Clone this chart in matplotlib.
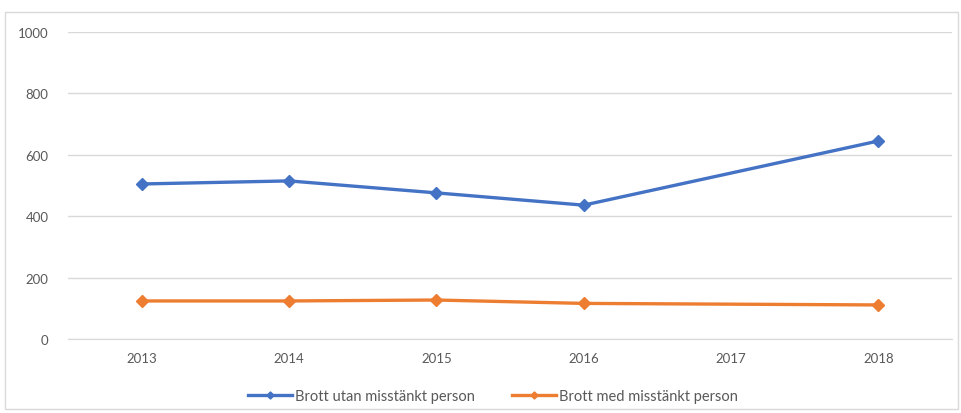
import numpy as np
import matplotlib.pyplot as plt
from matplotlib.patches import Rectangle

# Values (2017 has no data point in the source)
years = ["2013", "2014", "2015", "2016", "2017", "2018"]
utan_misstankt = [505, 515, 476, 436, None, 645]
med_misstankt = [124, 124, 127, 116, None, 111]
series_names = ["Brott utan misstänkt person", "Brott med misstänkt person"]
series_colors = ["#4472C4", "#ED7D31"]
y_ticks = [0, 200, 400, 600, 800, 1000]

plt.rcParams['font.family'] = ['Lato', 'DejaVu Sans']

fig = plt.figure(figsize=(9.61, 4.14), dpi=100)
ax = fig.add_axes([0.0708, 0.1787, 0.9198, 0.7416])

# Outer chart border like the Excel chart area
fig.patches.append(Rectangle((5 / 961, 4 / 414), 953 / 961, 397 / 414,
                             transform=fig.transFigure, fill=False,
                             edgecolor="#d9d9d9", linewidth=1))

x = np.arange(len(years))
for vals, name, color in zip([utan_misstankt, med_misstankt], series_names, series_colors):
    pts = [(xi, v) for xi, v in zip(x, vals) if v is not None]
    xs, ys = zip(*pts)
    ax.plot(xs, ys, color=color, linewidth=2.4, marker="D", markersize=6,
            label=name, solid_joinstyle="round")

ax.set_xlim(-0.5, len(years) - 0.5)
ax.set_ylim(0, 1000)
ax.set_yticks(y_ticks)
ax.set_xticks(x)
ax.set_xticklabels(years)
ax.grid(axis="y", color="#d9d9d9", linewidth=1)
ax.set_axisbelow(True)
for side in ["top", "right", "left"]:
    ax.spines[side].set_visible(False)
ax.spines["bottom"].set_color("#d9d9d9")
ax.tick_params(axis="both", length=0, colors="#595959", labelsize=9.5)
ax.tick_params(axis="y", pad=14)
ax.tick_params(axis="x", pad=9)

ax.legend(loc="center", bbox_to_anchor=(493 / 961, 1 - 397 / 414),
          bbox_transform=fig.transFigure, ncol=2, frameon=False,
          fontsize=10.5, labelcolor="#595959", handlelength=3.0,
          handletextpad=0.2, columnspacing=2.6, markerscale=0.6)

fig.savefig("out.png", dpi=100)
